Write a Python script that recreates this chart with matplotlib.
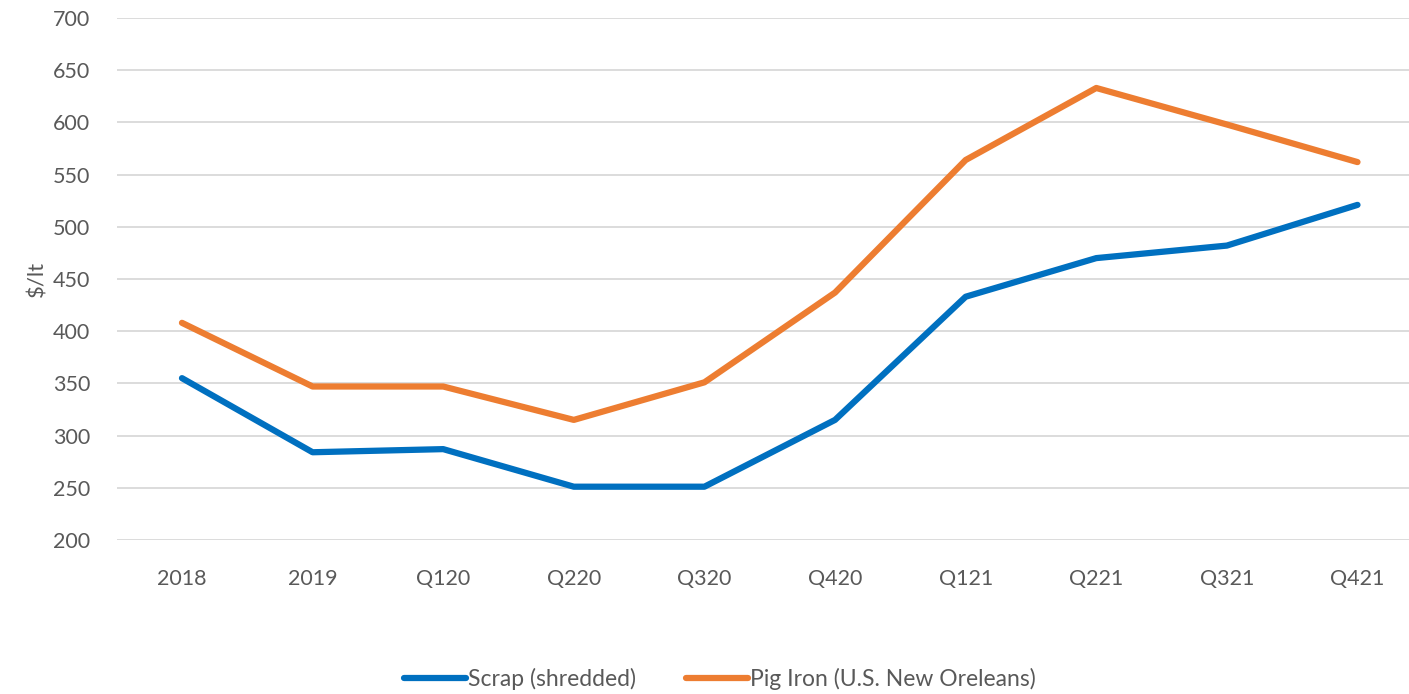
import matplotlib
matplotlib.use('Agg')
import matplotlib.pyplot as plt

plt.rcParams['font.family'] = ['Lato', 'DejaVu Sans']

periodos = ['2018', '2019', 'Q120', 'Q220', 'Q320', 'Q420', 'Q121', 'Q221', 'Q321', 'Q421']
scrap = [355, 284, 287, 251, 251, 315, 433, 470, 482, 521]
pig_iron = [408, 347, 347, 315, 351, 437, 564, 633, 598, 562]

fig = plt.figure(figsize=(14.09, 6.94), dpi=100)
ax = fig.add_axes([0.0828, 0.222, 0.927, 0.752])

x = list(range(len(periodos)))
ax.plot(x, scrap, color='#0070C0', linewidth=4.5, solid_capstyle='round',
        label='Scrap (shredded)')
ax.plot(x, pig_iron, color='#ED7D31', linewidth=4.5, solid_capstyle='round',
        label='Pig Iron (U.S. New Oreleans)')

ax.set_xlim(-0.5, len(periodos) - 0.5)
ax.set_ylim(200, 700)
ax.set_yticks(range(200, 701, 50))
ax.set_xticks(x)
ax.set_xticklabels(periodos)
ax.grid(axis='y', color='#D9D9D9', linewidth=1.3)
ax.set_axisbelow(True)
for s in ax.spines.values():
    s.set_visible(False)
ax.tick_params(axis='both', length=0, labelsize=15.5, labelcolor='#595959')
ax.tick_params(axis='y', pad=19)
ax.tick_params(axis='x', pad=21)
ax.set_ylabel('$/lt', fontsize=16, color='#595959', labelpad=4)

fig.legend(loc='center', bbox_to_anchor=(0.511, 0.022), ncol=2, frameon=False,
           fontsize=16.5, labelcolor='#595959', handlelength=2.7, handletextpad=0.1,
           columnspacing=2.2)

fig.savefig('out.png', dpi=100)
